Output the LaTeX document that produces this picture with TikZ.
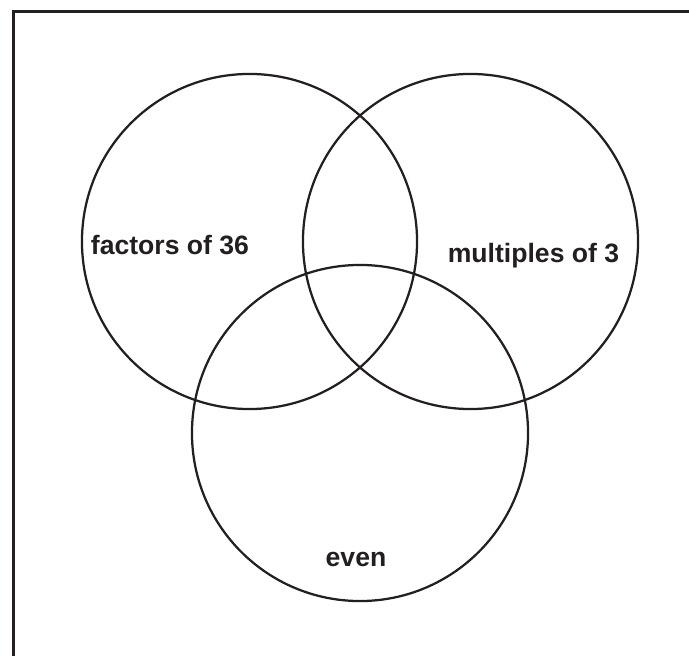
\documentclass[tikz,border=0pt]{standalone}
\usepackage{fontspec}
\setmainfont{Liberation Sans}
\usepackage{tikz}
\usetikzlibrary{positioning}

\definecolor{vennink}{HTML}{231F20}

\tikzset{
  setcircle/.style={line width=1.6pt, draw=vennink},
  setlabel/.style={font=\bfseries\fontsize{18.9}{22}\selectfont, text=vennink, inner sep=0pt, anchor=base},
  frameline/.style={line width=1.7pt, draw=vennink}
}

\begin{document}
\begin{tikzpicture}[x=0.025cm, y=-0.025cm]

\useasboundingbox (0,0) rectangle (689,656);

% frame (top and left edges only)
\draw[frameline] (689,11.5) -- (13.5,11.5) -- (13.5,656);

% the three sets
\draw[setcircle] (249.5,241.5) circle[radius=4.1875cm];
\draw[setcircle] (470.5,241.5) circle[radius=4.1875cm];
\draw[setcircle] (360,433) circle[radius=4.2cm];

\node[setlabel] (factors) at (170,254) {factors of 36};
\node[setlabel] (multiples) at (533.5,262) {multiples of 3};
\node[setlabel] (even) at (356,566) {even};

\end{tikzpicture}
\end{document}
